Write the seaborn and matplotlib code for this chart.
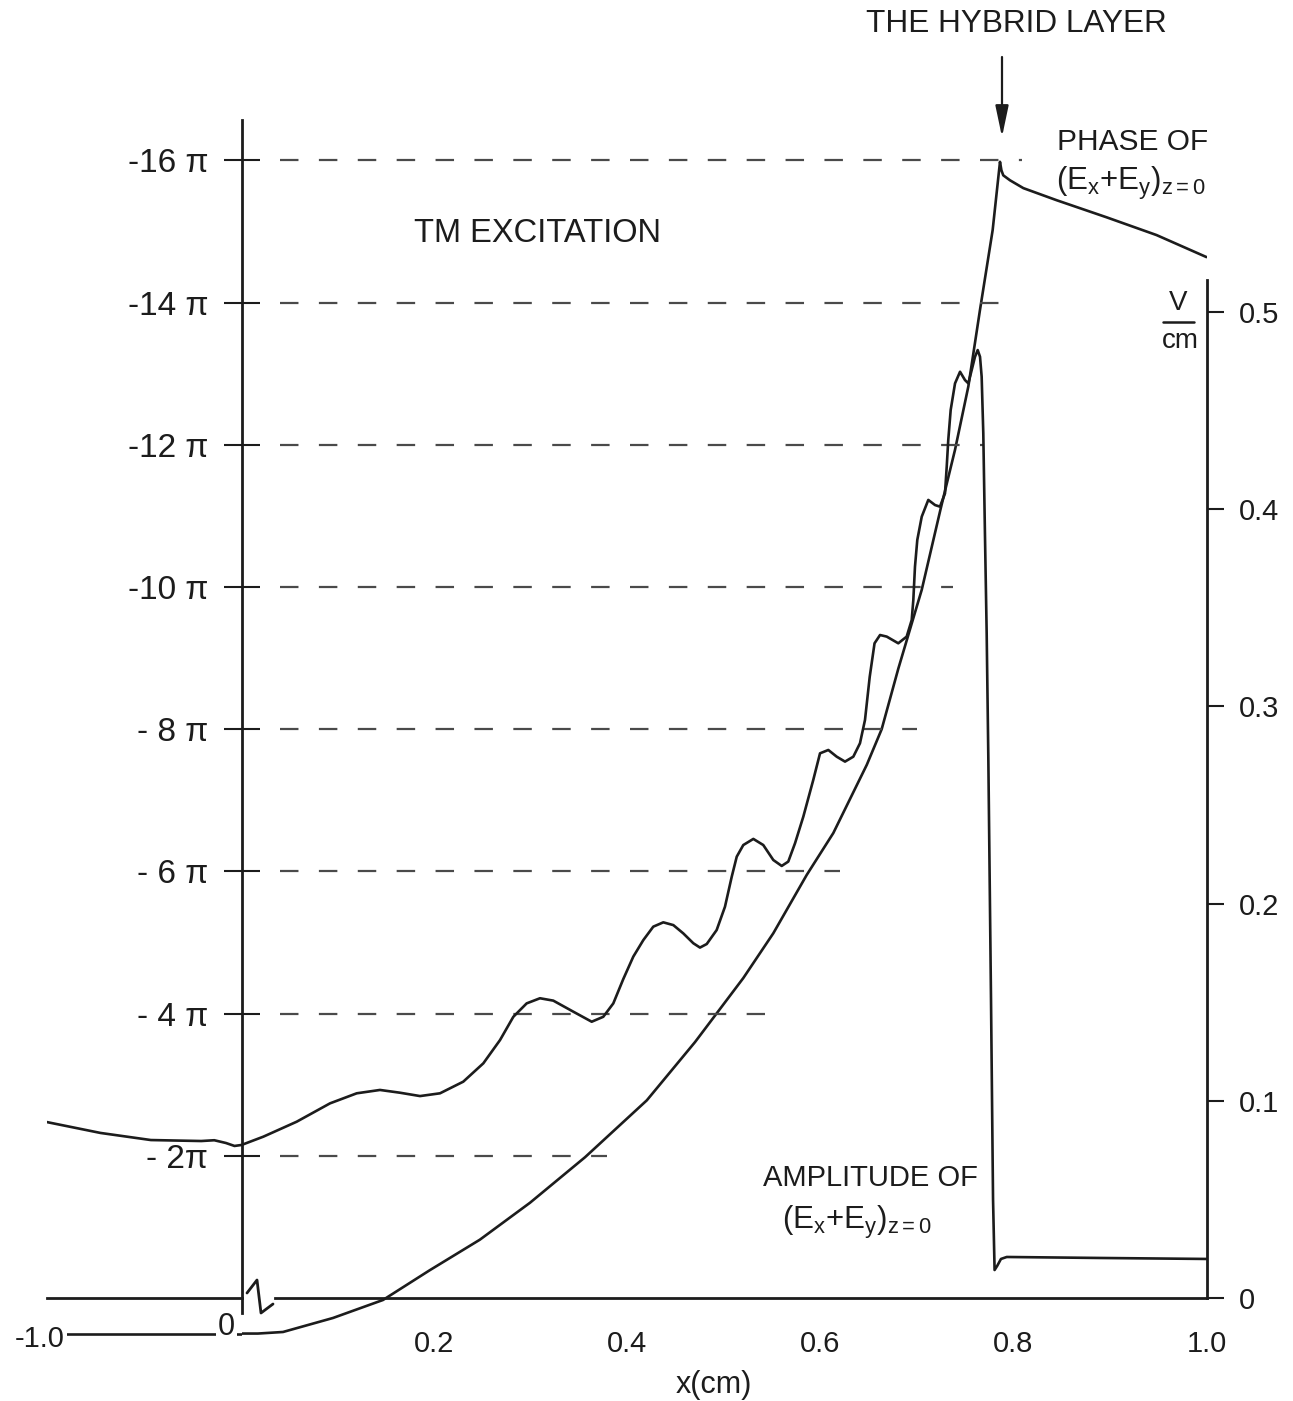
import matplotlib
matplotlib.use("Agg")
import matplotlib.pyplot as plt
from matplotlib.lines import Line2D
import seaborn as sns

# ------------------------------------------------------------------
# values
# ------------------------------------------------------------------
# phase of (Ex+Ey) at z=0, in units of pi
phase_x_vac = [-1.0, 0.0]
phase_vac = [0.5, 0.5]
phase_x = [0.0, 0.017, 0.043, 0.0948, 0.1466, 0.195, 0.247, 0.299, 0.356, 0.42,
           0.47, 0.52, 0.5511, 0.5857, 0.6133, 0.648, 0.6634, 0.6806, 0.7049, 0.7245,
           0.7394, 0.7532, 0.7653, 0.7784, 0.786, 0.7875, 0.7894, 0.7964, 0.8102, 0.8447,
           0.8964, 0.9482, 1.0]
phase_pi = [0.5, 0.5, 0.478, 0.281, 0.028, -0.39, -0.82, -1.34, -1.98, -2.78,
            -3.6, -4.5, -5.13, -5.95, -6.54, -7.5, -8.0, -8.85, -9.96, -11.1,
            -11.93, -12.82, -13.9, -15.02, -15.98, -15.86, -15.79, -15.72, -15.61, -15.44,
            -15.2, -14.95, -14.64]

# amplitude of (Ex+Ey) at z=0, V/cm
amp_x_vac = [-1.0, -0.725, -0.466, -0.207, -0.14, -0.08, -0.036, 0.0]
amp_vac = [0.0892, 0.0837, 0.0801, 0.0796, 0.0800, 0.0786, 0.0771, 0.0776]
amp_x = [0.0, 0.0226, 0.0572, 0.0917, 0.1194, 0.1435, 0.1642, 0.185, 0.2057, 0.2298,
         0.2506, 0.2679, 0.2817, 0.2955, 0.3093, 0.3231, 0.3438, 0.3629, 0.3749, 0.3853,
         0.3956, 0.406, 0.4164, 0.4267, 0.4371, 0.4475, 0.4578, 0.4682, 0.4751, 0.4821,
         0.4924, 0.501, 0.508, 0.5132, 0.52, 0.5304, 0.5407, 0.5511, 0.5598, 0.5666,
         0.5736, 0.5822, 0.5925, 0.5995, 0.6081, 0.6168, 0.6254, 0.634, 0.6409, 0.6461,
         0.651, 0.656, 0.6617, 0.6686, 0.6806, 0.6893, 0.6945, 0.6962, 0.6979, 0.7003,
         0.7049, 0.7117, 0.7187, 0.7238, 0.729, 0.7308, 0.7324, 0.7349, 0.7394, 0.7446,
         0.7497, 0.7532, 0.7567, 0.7601, 0.7629, 0.7653, 0.767, 0.7687, 0.7704, 0.7722,
         0.7739, 0.7767, 0.7788, 0.7804, 0.783, 0.787, 0.793, 0.890, 1.0]
amp = [0.0776, 0.0818, 0.0894, 0.0987, 0.1038, 0.1055, 0.1041, 0.1024, 0.1038, 0.1097,
       0.119, 0.1308, 0.1426, 0.1494, 0.152, 0.1508, 0.1452, 0.1401, 0.1426, 0.1494,
       0.1617, 0.1731, 0.1815, 0.1883, 0.1905, 0.1891, 0.1849, 0.1799, 0.1777, 0.1795,
       0.1866, 0.1984, 0.2136, 0.2238, 0.2297, 0.2328, 0.2297, 0.2221, 0.2191, 0.2213,
       0.2306, 0.2441, 0.2627, 0.2762, 0.2779, 0.2745, 0.272, 0.2745, 0.2813, 0.2931,
       0.315, 0.332, 0.3362, 0.3354, 0.332, 0.3354, 0.3438, 0.354, 0.3708, 0.3844,
       0.3962, 0.4047, 0.4021, 0.4013, 0.408, 0.4216, 0.4351, 0.4503, 0.4638, 0.4697,
       0.4655, 0.4638, 0.4706, 0.4773, 0.4807, 0.4773, 0.4672, 0.4385, 0.3878, 0.3371,
       0.2745, 0.151, 0.05, 0.0142, 0.0162, 0.0198, 0.0208, 0.0203, 0.0198]

# phase guide levels (units of pi) and where each dashed guide stops (x, cm)
phase_levels = [-2, -4, -6, -8, -10, -12, -14, -16]
phase_labels = ["- 2π", "- 4 π", "- 6 π", "- 8 π", "-10 π", "-12 π", "-14 π", "-16 π"]
guide_end = [0.379, 0.543, 0.620, 0.700, 0.737, 0.768, 0.804, 0.809]

x_ticks = [0.1, 0.2, 0.3, 0.4, 0.5, 0.6, 0.7, 0.8, 0.9, 1.0]
x_labels = ["", "0.2", "", "0.4", "", "0.6", "", "0.8", "", "1.0"]
amp_ticks = [0, 0.1, 0.2, 0.3, 0.4, 0.5]
amp_labels = ["0", "0.1", "0.2", "0.3", "0.4", "0.5"]

# ------------------------------------------------------------------
sns.set_style("white")
plt.rcParams["font.family"] = ["Liberation Sans", "DejaVu Sans"]
plt.rcParams["mathtext.fontset"] = "custom"
plt.rcParams["mathtext.rm"] = "Liberation Sans"
plt.rcParams["mathtext.it"] = "Liberation Sans"
plt.rcParams["mathtext.default"] = "regular"
plt.rcParams["lines.scale_dashes"] = False

INK = "#1c1c1c"
DASH = "#4a4a4a"

W, H = 1293, 1401
fig = plt.figure(figsize=(W / 100, H / 100), dpi=100)


def fx(px):
    return px / W


def fy(py):
    return 1 - py / H


# layout in pixels
Y_TOP, Y_BOT, ZERO = 100, 1360, 1298
PI_PX, AMP_PX = 71.1, 1972
X0, X1, XL = 241.5, 1206.5, 47

ph_lim = ((Y_BOT - ZERO) / PI_PX, -(ZERO - Y_TOP) / PI_PX)
amp_lim = (-(Y_BOT - ZERO) / AMP_PX, (ZERO - Y_TOP) / AMP_PX)

ax = fig.add_axes([fx(X0), fy(Y_BOT), fx(X1) - fx(X0), fy(Y_TOP) - fy(Y_BOT)])
axL = fig.add_axes([fx(XL), fy(Y_BOT), fx(X0) - fx(XL), fy(Y_TOP) - fy(Y_BOT)])
ax2 = ax.twinx()
axL2 = axL.twinx()

for a in (ax, axL, ax2, axL2):
    a.patch.set_visible(False)
    for s in a.spines.values():
        s.set_visible(False)

ax.set_xlim(0, 1)
axL.set_xlim(-1, 0)
for a in (ax, axL):
    a.set_ylim(*ph_lim)
for a in (ax2, axL2):
    a.set_ylim(*amp_lim)

line_kw = dict(color=INK, linewidth=1.9, sort=False, estimator=None)
sns.lineplot(x=phase_x, y=phase_pi, ax=ax, **line_kw)
sns.lineplot(x=phase_x_vac, y=phase_vac, ax=axL, **line_kw)
sns.lineplot(x=amp_x, y=amp, ax=ax2, **line_kw)
sns.lineplot(x=amp_x_vac, y=amp_vac, ax=axL2, **line_kw)
for a in (ax, axL, ax2, axL2):
    for ln in a.get_lines():
        ln.set_solid_joinstyle("round")

# dashed guides at the phase levels
ax.hlines(phase_levels, 0.04, guide_end, colors=DASH, linewidth=1.6,
          linestyles=[(0, (13.3, 14.7))])

# axis lines
ax.spines["left"].set_visible(True)
ax.spines["left"].set_bounds(0.21, -16.57)
ax.spines["bottom"].set_visible(True)
ax.spines["bottom"].set_position(("data", 0))
ax.spines["bottom"].set_bounds(0.035, 1.0)
ax2.spines["right"].set_visible(True)
ax2.spines["right"].set_bounds(0, 0.516)
axL.spines["bottom"].set_visible(True)
axL.spines["bottom"].set_position(("data", 0))
axL.spines["bottom"].set_bounds(-1, 0)
for s in (ax.spines["left"], ax.spines["bottom"], ax2.spines["right"], axL.spines["bottom"]):
    s.set_linewidth(2.0)
    s.set_color(INK)

ax.set_xticks(x_ticks)
ax.set_xticklabels(x_labels)
ax.tick_params(axis="x", direction="out", length=10, width=1.8, labelsize=21, pad=13,
               color=INK, labelcolor=INK)
ax.set_yticks(phase_levels)
ax.set_yticklabels(phase_labels)
ax.tick_params(axis="y", direction="inout", length=26, width=1.5, labelsize=24, pad=11,
               color=INK, labelcolor=INK)
ax2.set_yticks(amp_ticks)
ax2.set_yticklabels(amp_labels)
ax2.tick_params(axis="y", direction="out", length=12, width=1.5, labelsize=21, pad=11,
                color=INK, labelcolor=INK)
axL.set_xticks([-1.0])
axL.set_xticklabels([""])
axL.tick_params(axis="x", direction="out", length=10, width=1.8, color=INK)
axL.set_yticks([])
axL2.set_yticks([])
for a in (ax, ax2, axL, axL2):
    a.set_xlabel("")
    a.set_ylabel("")

white = dict(facecolor="white", edgecolor="none", pad=1.5)
axL.text(-1.036, 0.58, "-1.0", ha="center", va="center", fontsize=21, color=INK,
         bbox=white, zorder=5, clip_on=False)
axL.text(-0.078, 0.41, "0", ha="center", va="center", fontsize=22, color=INK,
         bbox=white, zorder=5, clip_on=False)

# axis break mark
fig.add_artist(Line2D([fx(247), fx(257), fx(261), fx(273)],
                      [fy(1293), fy(1280), fy(1313), fy(1304)],
                      transform=fig.transFigure, color=INK, linewidth=2.0))

# annotations
txt = dict(color=INK, ha="center", va="center")
fig.text(fx(714), fy(1385), "x(cm)", fontsize=22, **txt)
fig.text(fx(537), fy(233), "TM EXCITATION", fontsize=23.5, **txt)
fig.text(fx(1016), fy(24), "THE HYBRID LAYER", fontsize=22.7, **txt)
fig.text(fx(1133), fy(142), "PHASE OF", fontsize=21.5, **txt)
fig.text(fx(1131), fy(183), "$(E_x$+$E_y)_{z=0}$", fontsize=22.5, **txt)
fig.text(fx(870), fy(1178), "AMPLITUDE OF", fontsize=21, **txt)
fig.text(fx(857), fy(1222), "$(E_x$+$E_y)_{z=0}$", fontsize=22.5, **txt)
fig.text(fx(1178), fy(303), "V", fontsize=20, **txt)
fig.text(fx(1180), fy(341), "cm", fontsize=20, **txt)
fig.add_artist(Line2D([fx(1163), fx(1194)], [fy(322), fy(322)],
                      transform=fig.transFigure, color=INK, linewidth=1.8))

ax.annotate("", xy=(fx(1002), fy(137)), xycoords="figure fraction",
            xytext=(fx(1002), fy(57)), textcoords="figure fraction",
            arrowprops=dict(arrowstyle="-|>,head_length=0.95,head_width=0.2",
                            mutation_scale=20, lw=1.6, color=INK,
                            shrinkA=0, shrinkB=0),
            annotation_clip=False)

fig.savefig("out.png", dpi=100, facecolor="white")
